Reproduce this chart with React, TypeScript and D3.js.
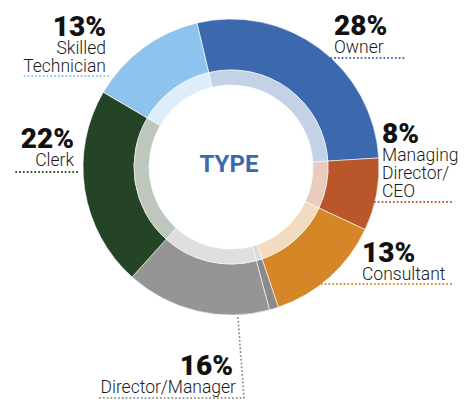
import { useMemo } from 'react'
import * as d3 from 'd3'

// slice data, clockwise from the top
const CATEGORIES = ['Owner', 'Managing Director/CEO', 'Consultant', 'Other', 'Director/Manager', 'Clerk', 'Skilled Technician']
const VALUES = [28, 8, 13, 1, 16, 22, 13]
const COLORS = ['#3c69ae', '#b9562a', '#d58727', '#8a8a8a', '#959595', '#244425', '#8ec3ee']
const PCT_LABELS = ['28%', '8%', '13%', '', '16%', '22%', '13%']
const NAME_LINES = [['Owner'], ['Managing', 'Director/', 'CEO'], ['Consultant'], [], ['Director/Manager'], ['Clerk'], ['Skilled', 'Technician']]

const W = 476
const H = 405
const CX = 231
const CY = 167
const R_OUT = 148
const R_MID = 97
const R_IN = 82
const START = (-13.3 * Math.PI) / 180

// label layout: side, text anchor x, percent baseline y, leader y, leader outer x
const LAYOUT: Record<number, { side: 'l' | 'r'; x: number; y: number; ly: number; lx: number }> = {
  0: { side: 'r', x: 334, y: 35, ly: 58, lx: 405 },
  1: { side: 'r', x: 382, y: 143, ly: 202, lx: 452 },
  2: { side: 'r', x: 362, y: 262, ly: 284, lx: 453 },
  5: { side: 'l', x: 74, y: 148, ly: 172, lx: 16 },
  6: { side: 'l', x: 106, y: 36, ly: 76, lx: 22 },
}

export default function App() {
  const arcs = useMemo(() => {
    const pie = d3.pie<number>().sort(null).value((d) => d).startAngle(START).endAngle(START + 2 * Math.PI)
    return pie(VALUES)
  }, [])
  const outer = d3.arc<d3.PieArcDatum<number>>().innerRadius(R_MID).outerRadius(R_OUT)
  const inner = d3.arc<d3.PieArcDatum<number>>().innerRadius(R_IN).outerRadius(R_MID)

  const edgeX = (y: number, side: 'l' | 'r') => {
    const dy = y - CY
    const dx = Math.sqrt(Math.max(0, R_OUT * R_OUT - dy * dy))
    return side === 'r' ? CX + dx : CX - dx - 6
  }

  const pctFont = { fontFamily: 'Roboto, sans-serif', fontWeight: 900, fontSize: 28 }
  const nameFont = { fontFamily: 'Roboto, sans-serif', fontWeight: 300, fontSize: 17.5 }
  const dots = { strokeWidth: 2, strokeDasharray: '0.1 3.7', strokeLinecap: 'round' as const, fill: 'none' }

  return (
    <div style={{ position: 'fixed', left: 0, top: 0, width: W, height: H, background: '#fff' }}>
      <svg width={W} height={H}>
        <g transform={`translate(${CX},${CY})`}>
          {arcs.map((a, i) => (
            <path key={'o' + i} d={outer(a) ?? ''} fill={COLORS[i]} stroke="#fff" strokeWidth={0.6} />
          ))}
          {arcs.map((a, i) => (
            <path key={'i' + i} d={inner(a) ?? ''} fill={COLORS[i]} fillOpacity={0.3} stroke="#fff" strokeWidth={0.6} />
          ))}
          <text
            x={-2}
            y={5}
            textAnchor="middle"
            style={{ fontFamily: 'Roboto, sans-serif', fontWeight: 700, fontSize: 24, fill: '#3c69ae' }}
          >
            TYPE
          </text>
        </g>

        {Object.entries(LAYOUT).map(([k, l]) => {
          const i = Number(k)
          const anchor = l.side === 'r' ? 'start' : 'end'
          const x0 = edgeX(l.ly, l.side)
          return (
            <g key={'l' + i}>
              <text x={l.x} y={l.y} textAnchor={anchor} style={{ ...pctFont, fill: '#111' }}>
                {PCT_LABELS[i]}
              </text>
              {NAME_LINES[i].map((t, j) => (
                <text key={j} x={l.x} y={l.y + 17.5 + j * 18} textAnchor={anchor} style={{ ...nameFont, fill: '#1a1a1a' }}>
                  {t}
                </text>
              ))}
              <line x1={x0} x2={l.lx} y1={l.ly} y2={l.ly} style={{ ...dots, stroke: COLORS[i] }} />
            </g>
          )
        })}

        {/* Director/Manager label sits below the ring */}
        <g>
          <text x={233} y={375} textAnchor="end" style={{ ...pctFont, fill: '#111' }}>
            {PCT_LABELS[4]}
          </text>
          <text x={236} y={393} textAnchor="end" style={{ ...nameFont, fill: '#1a1a1a' }}>
            {NAME_LINES[4][0]}
          </text>
          <polyline
            points={`238,${CY + R_OUT + 3} 244,398 97,398`}
            style={{ ...dots, stroke: COLORS[4] }}
          />
        </g>
      </svg>
    </div>
  )
}
